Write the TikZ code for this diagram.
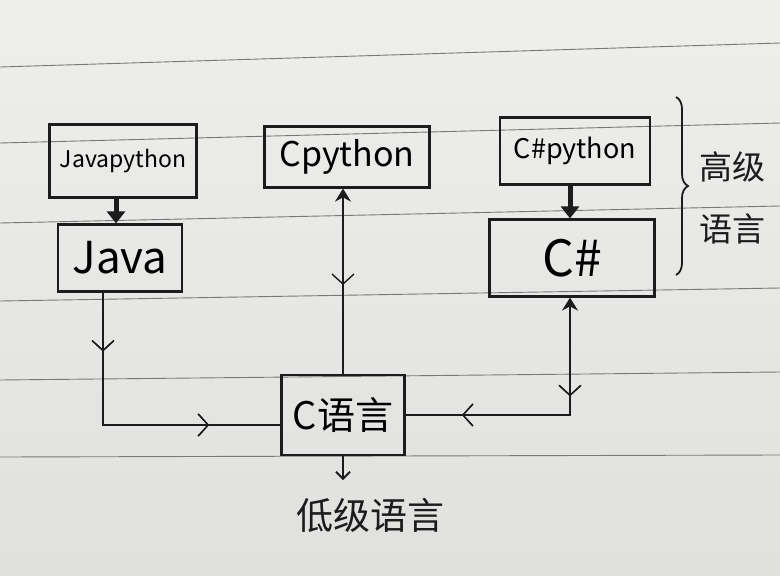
\documentclass[tikz,border=0pt]{standalone}
\usepackage{fontspec}
\newfontfamily\cjk{Noto Sans CJK SC}
\usetikzlibrary{arrows.meta,decorations.markings,decorations.pathreplacing}
\tikzset{
  box/.style={draw=ink,line width=2.2pt,inner sep=0pt},
  conn/.style={draw=ink,line width=1.8pt},
  thickconn/.style={draw=ink,line width=5pt,-{Triangle[length=12pt,width=18pt]}},
  ruled/.style={draw=rule,line width=0.9pt},
  midarr/.style={postaction={decorate},decoration={markings,
     mark=at position #1 with {\arrow[ink,line width=1.4pt]{Straight Barb[length=10pt,width=22pt]}}}},
  opentip/.style={{Stealth[length=13pt,width=16pt]}-},
  fs/.style={font=\cjk\fontsize{#1}{#1}\selectfont},
}
\definecolor{ink}{RGB}{28,28,28}
\definecolor{papertop}{RGB}{238,238,236}
\definecolor{paperbot}{RGB}{224,224,222}
\definecolor{rule}{RGB}{120,120,120}
\begin{document}
\begin{tikzpicture}[x=1pt,y=-1pt]
\shade[top color=papertop,bottom color=paperbot] (0,0) rectangle (780,576);
\useasboundingbox (0,0) rectangle (780,576);
% ruled paper lines
\draw[ruled] (0,67) -- (780,43);
\draw[ruled] (0,143) -- (780,123);
\draw[ruled] (0,223) -- (780,206);
\draw[ruled] (0,301) -- (780,288);
\draw[ruled] (0,380) -- (780,372);
\draw[ruled] (0,457) -- (780,455);
% nodes
\node[box,minimum width=147pt,minimum height=73pt,fs=23] (jpy) at (123,161) {Javapython};
\node[box,minimum width=124pt,minimum height=67pt,fs=44] (java) at (120,258) {Java};
\node[box,minimum width=165pt,minimum height=61pt,fs=34] (cpy) at (347,157) {Cpython};
\node[box,minimum width=150pt,minimum height=67pt,fs=27] (cspy) at (575,151) {C\#python};
\node[box,minimum width=165pt,minimum height=77pt,fs=50] (cs) at (572,258) {C\#};
\node[box,minimum width=123pt,minimum height=80pt,fs=38] (clang) at (343,415) {C语言};
\node[fs=37,text=ink] (low) at (370,515) {低级语言};
\node[font=\cjk\fontsize{33}{62}\selectfont,text=ink,align=center] (high) at (732,198) {高级\\语言};
% brace
\draw[ink,line width=1.8pt,decorate,decoration={brace,amplitude=12pt}] (676,97) -- (676,275);
% coordinates
\coordinate (jturn) at (103,425);
\coordinate (cturn) at (570,415);
% connectors
\draw[thickconn] (jpy.south -| 116,0) -- (java.north -| 116,0);
\draw[thickconn] (cspy.south -| 570,0) -- (cs.north -| 570,0);
\draw[conn,midarr/.list={0.19,0.77}] (java.south -| jturn) -- (jturn) -- (clang.west |- jturn);
\draw[conn,opentip,midarr=0.52] (cpy.south -| clang.north) -- (clang.north);
\draw[conn,opentip,midarr/.list={0.35,0.8}] (cs.south -| cturn) -- (cturn) -- (clang.east |- cturn);
\draw[conn,-{Straight Barb[length=7pt,width=14pt]}] (clang.south) -- (343,480);
\end{tikzpicture}
\end{document}
